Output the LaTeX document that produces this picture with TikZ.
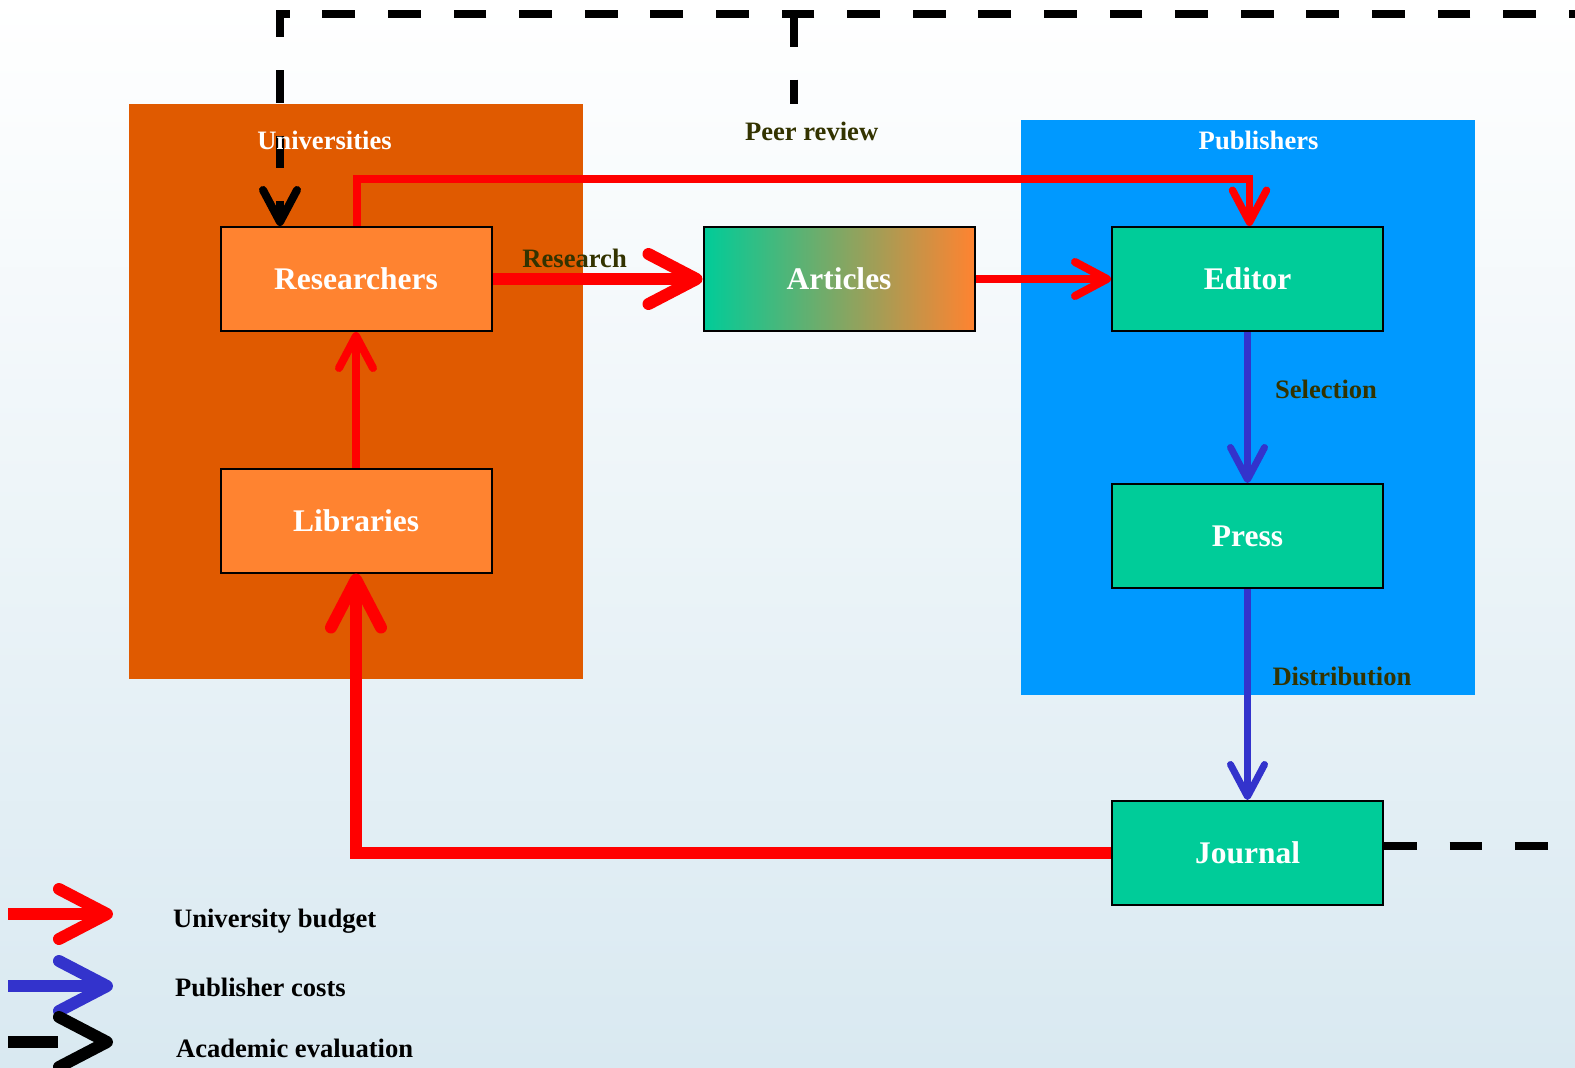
\documentclass[tikz,border=0pt]{standalone}
\usepackage{fontspec}
\setmainfont{Liberation Serif}
\usetikzlibrary{arrows.meta}
\definecolor{unibg}{HTML}{E05A00}
\definecolor{pubbg}{HTML}{0099FF}
\definecolor{actor}{HTML}{FF8330}
\definecolor{office}{HTML}{00CC99}
\definecolor{budget}{HTML}{FF0000}
\definecolor{costs}{HTML}{3333CC}
\definecolor{olive}{HTML}{333300}
\definecolor{skyend}{RGB}{217,233,241}
\begin{document}
\begin{tikzpicture}[x=0.5pt,y=-0.5pt,
    area/.style={inner sep=0pt,minimum width=227pt,minimum height=287.5pt},
    box/.style={draw=black,line width=1pt,minimum width=135.5pt,minimum height=52pt,
      text=white,font=\fontsize{15.75}{18}\bfseries\selectfont},
    tag/.style={font=\fontsize{13.3}{16}\bfseries\selectfont},
    bighead/.style={-{Straight Barb[length=24pt,width=25pt,round]}},
    smallhead/.style={-{Straight Barb[length=16pt,width=17pt,round]}},
    evaluation/.style={black,line width=4pt,dash pattern=on 16.4pt off 16.4pt}]
  \useasboundingbox (0,0) rectangle (1575,1067);
  \clip (0,0) rectangle (1575,1067);
  \shade[top color=white,bottom color=skyend] (0,0) rectangle (1575,1067);
  % the two institutions
  \draw
    (356,391.5) node[area,fill=unibg] (uni){}
    (1248,407) node[area,fill=pubbg] (pub){};
  % actors
  \draw
    (356,279) node[box,fill=actor] (res){Researchers}
    (356,520.5) node[box,fill=actor] (lib){Libraries}
    (839,279) node[box,left color=office,right color=actor] (art){Articles}
    (1247.5,279) node[box,fill=office] (ed){Editor}
    (1247.5,536) node[box,fill=office] (pr){Press}
    (1247.5,853) node[box,fill=office] (jour){Journal};
  \coordinate (evfar) at (1700,14);
  \coordinate (evtop) at (280,14);
  \coordinate (peerfork) at (794,14);
  \coordinate (peerend) at (794,104);
  \begin{scope}[line cap=butt]
    \draw[budget,line width=6pt,bighead] (res) -- (art);
    \draw[budget,line width=4pt,smallhead] (art) -- (ed);
    \draw[budget,line width=3.75pt,smallhead] ([xshift=0.5pt]res.north) -- ++(0,-47) -| ([xshift=1pt]ed.north);
    \draw[budget,line width=4pt,smallhead] (lib) -- (res);
    \draw[budget,line width=6pt,bighead] (jour) -| (lib);
    \draw[costs,line width=3.5pt,smallhead] (ed) -- (pr);
    \draw[costs,line width=3.5pt,smallhead] (pr) -- (jour);
    \draw[evaluation,smallhead] ([yshift=3.5pt]jour.east) -| (evfar) -- (evtop) -- (evtop |- res.north);
    \draw[evaluation] (peerfork) -- (peerend);
  \end{scope}
  % labels
  \draw
    (324.5,140.6) node[tag,text=white] (unilabel){Universities}
    (1258.6,140.6) node[tag,text=white] (publabel){Publishers}
    (811.6,131.6) node[tag,text=olive] (peer){Peer review}
    (574.6,258) node[tag,text=olive] (research){Research}
    (1326,389.7) node[tag,text=olive] (selection){Selection}
    (1342,676) node[tag,text=olive] (distribution){Distribution};
  % legend
  \coordinate (keyA1) at (8,914);
  \coordinate (keyA2) at (113,914);
  \coordinate (keyB1) at (8,986);
  \coordinate (keyB2) at (113,986);
  \coordinate (keyC1) at (8,1042);
  \coordinate (keyC2) at (113,1042);
  \draw[budget,line width=6pt,bighead] (keyA1) -- (keyA2);
  \draw[costs,line width=6pt,bighead] (keyB1) -- (keyB2);
  \draw[black,line width=6pt,bighead,dash pattern=on 25pt off 20pt] (keyC1) -- (keyC2);
  \draw
    (166,921) node[tag,anchor=west] (keyA){University budget}
    (168,987) node[tag,anchor=west] (keyB){Publisher costs}
    (169,1048) node[tag,anchor=west] (keyC){Academic evaluation};
\end{tikzpicture}
\end{document}
